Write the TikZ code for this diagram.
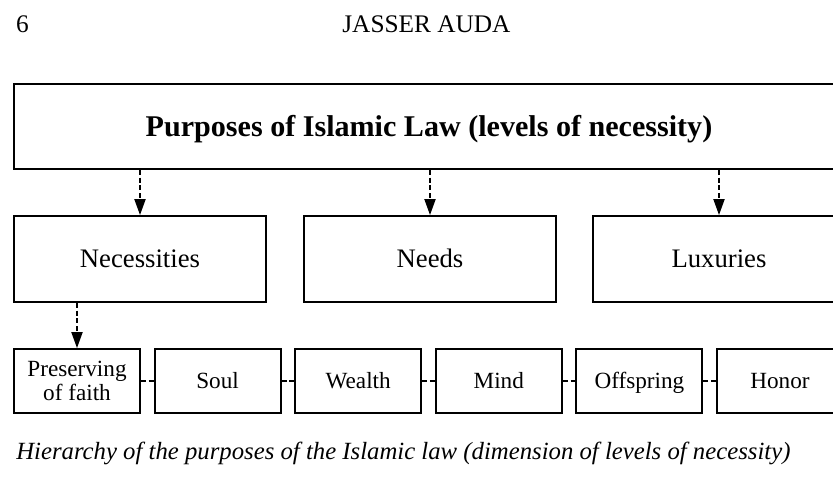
\documentclass[tikz,border=0pt]{standalone}
\usepackage{fontspec}
\setmainfont{Liberation Serif}
\usetikzlibrary{arrows.meta,positioning}
\tikzset{
  topbox/.style={draw,line width=1.4pt,minimum width=20.75cm,minimum height=2.125cm,inner sep=0pt,text height=19pt,text depth=4.8pt,font=\bfseries\fontsize{21.4}{25}\selectfont},
  levelbox/.style={draw,line width=1.4pt,minimum width=6.3cm,minimum height=2.15cm,inner sep=0pt,text height=17pt,text depth=4.5pt,font=\fontsize{19}{22}\selectfont},
  leafbox/.style={draw,line width=1.4pt,minimum width=3.15cm,minimum height=1.6cm,inner sep=0pt,align=center,font=\fontsize{16.5}{16.5}\selectfont},
  leafword/.style={leafbox,text height=15pt,text depth=4pt},
  flow/.style={-{Triangle[length=4mm,width=2.8mm]},dash pattern=on 3.5pt off 2pt,line width=1pt},
  link/.style={dash pattern=on 3.5pt off 2pt,line width=1pt}
}
\begin{document}
\begin{tikzpicture}
\useasboundingbox (0,0) rectangle (20.825,11.925);
\clip (0,0) rectangle (20.825,11.925);
\node[anchor=base,font=\fontsize{18}{21}\selectfont] (page) at (0.5625,11.1) {6};
\node[anchor=base,font=\fontsize{18}{21}\selectfont] (running) at (10.66,11.1) {JASSER AUDA};
\node[topbox] (purposes) at (10.725,8.7625) {Purposes of Islamic Law (levels of necessity)};
\node[levelbox] (necessities) at (3.5,5.45) {Necessities};
\node[levelbox] (needs) at (10.75,5.45) {Needs};
\node[levelbox] (luxuries) at (17.975,5.45) {Luxuries};
\node[leafbox] (faith) at (1.925,2.4) {Preserving\\of faith};
\foreach \name/\txt [count=\i] in {soul/Soul,wealth/Wealth,mind/Mind,offspring/Offspring,honor/Honor}
  \node[leafword] (\name) at ({1.925+\i*3.515},2.4) {\txt};
\foreach \lvl in {necessities,needs,luxuries}
  \draw[flow] (\lvl.north |- purposes.south) -- (\lvl.north);
\draw[flow] (faith.north |- necessities.south) -- (faith.north);
\draw[link] (faith) -- (soul);
\draw[link] (soul) -- (wealth);
\draw[link] (wealth) -- (mind);
\draw[link] (mind) -- (offspring);
\draw[link] (offspring) -- (honor);
\node[anchor=base west,inner sep=0pt,font=\itshape\fontsize{17.6}{20}\selectfont] (caption) at (0.4,0.44) {Hierarchy of the purposes of the Islamic law (dimension of levels of necessity)};
\end{tikzpicture}
\end{document}
